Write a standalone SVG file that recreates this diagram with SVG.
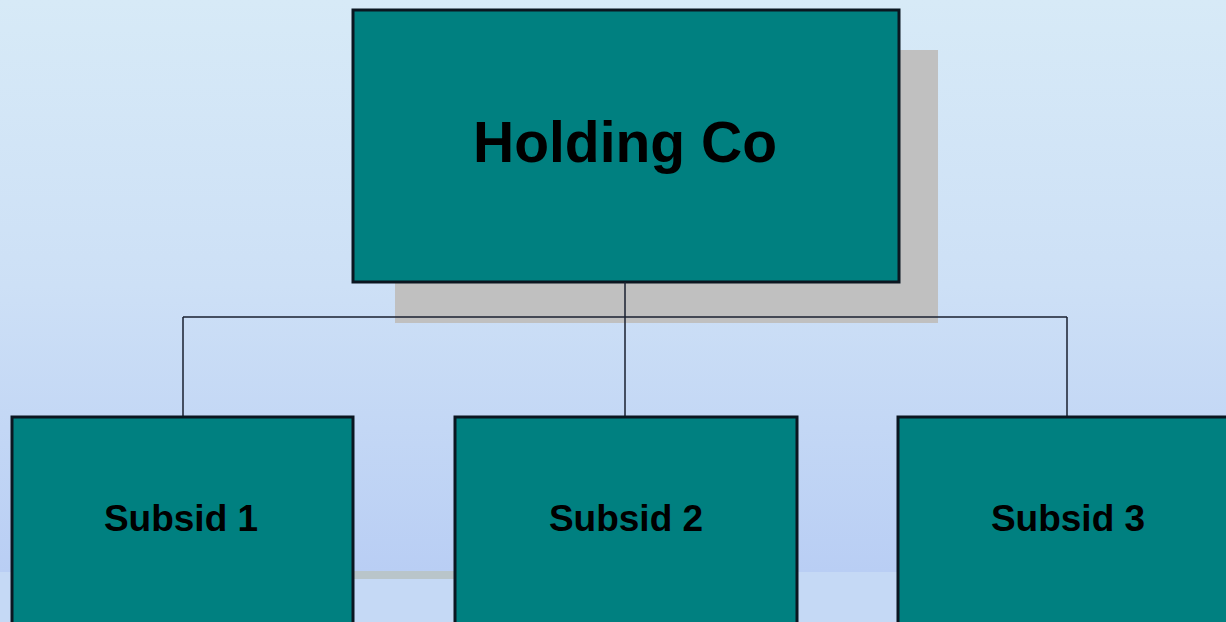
<svg xmlns="http://www.w3.org/2000/svg" width="1226" height="622" viewBox="0 0 1226 622">
<defs>
<linearGradient id="bg" x1="0" y1="0" x2="0" y2="1">
<stop offset="0" stop-color="#d7eaf7"/>
<stop offset="0.5" stop-color="#cde0f6"/>
<stop offset="1" stop-color="#b9cef4"/>
</linearGradient>
<style>
.box{fill:#008080;stroke:#0b1620;stroke-width:3}
.shadow{fill:#c0c0c0}
.lbl{font-family:"Liberation Sans",Arial,sans-serif;font-weight:bold;fill:#000;text-anchor:middle}
.conn{stroke:#1a2030;stroke-width:1.5;fill:none}
</style>
</defs>
<rect x="0" y="0" width="1226" height="572" fill="url(#bg)"/>
<rect x="0" y="572" width="1226" height="50" fill="#c5d9f5"/>
<rect x="352" y="571" width="104" height="8" fill="#b9c5ca"/>
<g id="holding">
<rect class="shadow" x="395" y="50" width="543" height="273"/>
<rect class="box" x="353" y="10" width="546" height="272"/>
<text class="lbl" x="625" y="162" font-size="57">Holding Co</text>
</g>
<g id="connectors">
<path class="conn" d="M625 282 V417 M183 317 H1067 M183 317 V417 M1067 317 V417"/>
</g>
<g id="subsid1">
<rect class="box" x="12" y="417" width="341" height="210"/>
<text class="lbl" x="181" y="531" font-size="37">Subsid 1</text>
</g>
<g id="subsid2">
<rect class="box" x="455" y="417" width="342" height="210"/>
<text class="lbl" x="626" y="531" font-size="37">Subsid 2</text>
</g>
<g id="subsid3">
<rect class="box" x="898" y="417" width="340" height="210"/>
<text class="lbl" x="1068" y="531" font-size="37">Subsid 3</text>
</g>
</svg>
